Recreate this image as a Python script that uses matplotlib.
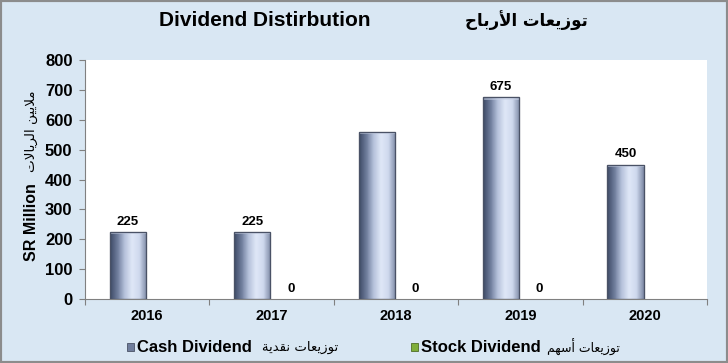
import numpy as np
import matplotlib
matplotlib.use("Agg")
import matplotlib.pyplot as plt
from matplotlib.colors import LinearSegmentedColormap
from matplotlib.patches import Rectangle

years = ['2016', '2017', '2018', '2019', '2020']
cash = [225, 225, 560, 675, 450]
stock = [np.nan, 0, 0, 0, np.nan]
cash_labels = ['225', '225', '', '675', '450']
stock_labels = ['', '0', '0', '0', '']
title_en = 'Dividend Distirbution'
title_ar = 'توزيعات الأرباح'
ylabel_en = 'SR Million'
ylabel_ar = 'ملايين الريالات'
leg_cash_en = 'Cash Dividend'
leg_cash_ar = 'توزيعات نقدية'
leg_stock_en = 'Stock Dividend'
leg_stock_ar = 'توزيعات أسهم'

# --- minimal Arabic shaping (presentation forms) + visual reversal ---
FORMS = {
    'ا': ('\uFE8D', '\uFE8E', None, None),
    'أ': ('\uFE83', '\uFE84', None, None),
    'ب': ('\uFE8F', '\uFE90', '\uFE91', '\uFE92'),
    'ة': ('\uFE93', '\uFE94', None, None),
    'ت': ('\uFE95', '\uFE96', '\uFE97', '\uFE98'),
    'ح': ('\uFEA1', '\uFEA2', '\uFEA3', '\uFEA4'),
    'د': ('\uFEA9', '\uFEAA', None, None),
    'ر': ('\uFEAD', '\uFEAE', None, None),
    'ز': ('\uFEAF', '\uFEB0', None, None),
    'س': ('\uFEB1', '\uFEB2', '\uFEB3', '\uFEB4'),
    'ع': ('\uFEC9', '\uFECA', '\uFECB', '\uFECC'),
    'ق': ('\uFED5', '\uFED6', '\uFED7', '\uFED8'),
    'ل': ('\uFEDD', '\uFEDE', '\uFEDF', '\uFEE0'),
    'م': ('\uFEE1', '\uFEE2', '\uFEE3', '\uFEE4'),
    'ن': ('\uFEE5', '\uFEE6', '\uFEE7', '\uFEE8'),
    'ه': ('\uFEE9', '\uFEEA', '\uFEEB', '\uFEEC'),
    'و': ('\uFEED', '\uFEEE', None, None),
    'ي': ('\uFEF1', '\uFEF2', '\uFEF3', '\uFEF4'),
}
LAMALEF = {'ا': ('\uFEFB', '\uFEFC'), 'أ': ('\uFEF7', '\uFEF8')}


def shape(text):
    units = []
    i = 0
    while i < len(text):
        c = text[i]
        if c == 'ل' and i + 1 < len(text) and text[i + 1] in LAMALEF:
            units.append(('LA', text[i + 1]))
            i += 2
        else:
            units.append(('C', c))
            i += 1

    def joins_left(u):
        if u[0] == 'LA':
            return False
        f = FORMS.get(u[1])
        return f is not None and f[2] is not None

    def joins_right(u):
        if u[0] == 'LA':
            return True
        return u[1] in FORMS

    out = []
    for k, u in enumerate(units):
        prev_j = k > 0 and joins_left(units[k - 1]) and joins_right(u)
        next_j = (k + 1 < len(units) and joins_left(u)
                  and joins_right(units[k + 1]))
        if u[0] == 'LA':
            out.append(LAMALEF[u[1]][1 if prev_j else 0])
            continue
        c = u[1]
        if c not in FORMS:
            out.append(c)
            continue
        iso, fin, ini, med = FORMS[c]
        if prev_j and next_j:
            out.append(med)
        elif prev_j:
            out.append(fin)
        elif next_j:
            out.append(ini)
        else:
            out.append(iso)
    return ''.join(reversed(out))


EN = 'Liberation Sans'
AR = 'DejaVu Sans'
BG = '#d9e7f3'

fig = plt.figure(figsize=(7.28, 3.63), dpi=100, facecolor=BG)
fig.patches.append(Rectangle((0, 0), 1, 1, transform=fig.transFigure,
                             fill=False, edgecolor='#8c8c8c', lw=3))
ax = fig.add_axes([85 / 728, 1 - 299 / 363, 622 / 728, 239 / 363])
ax.set_facecolor('white')

x = np.arange(len(years))
w = 0.29
off = 0.155
bars_c = ax.bar(x - off, cash, w, color='#9aa7c4', edgecolor='#4a5266', lw=0.8, zorder=2)
bars_s = ax.bar(x + off, np.nan_to_num(stock), w, color='#7fae3a', zorder=2)

cmap = LinearSegmentedColormap.from_list(
    'bar', ['#3e4a66', '#6f7d9c', '#b7c3dc', '#dfe7f7', '#cfd9ee', '#7e8aa6'])
grad = np.linspace(0, 1, 64).reshape(1, -1)
for b in bars_c:
    x0, y0 = b.get_x(), b.get_y()
    bw, bh = b.get_width(), b.get_height()
    im = ax.imshow(grad, cmap=cmap, aspect='auto',
                   extent=(x0, x0 + bw, y0, y0 + bh), zorder=2.5,
                   interpolation='bilinear')
    im.set_clip_path(b)
    ax.add_patch(Rectangle((x0, y0 + bh - 8), bw, 8, facecolor='#c9d2e6',
                           edgecolor='none', alpha=0.55, zorder=2.6))
    ax.add_patch(Rectangle((x0, y0), bw, bh, fill=False,
                           edgecolor='#4a5266', lw=0.9, zorder=2.7))

for b, lab in zip(bars_c, cash_labels):
    if lab:
        ax.text(b.get_x() + b.get_width() / 2, b.get_height() + 14, lab,
                ha='center', va='bottom', fontsize=9.5, fontweight='bold',
                family=EN, zorder=4)
for b, lab in zip(bars_s, stock_labels):
    if lab:
        ax.text(b.get_x() + b.get_width() / 2, b.get_height() + 14, lab,
                ha='center', va='bottom', fontsize=9.5, fontweight='bold',
                family=EN, zorder=4)

ax.set_xlim(-0.5, len(years) - 0.5)
ax.set_ylim(0, 800)
ax.set_yticks(np.arange(0, 801, 100))
ax.set_yticklabels([str(v) for v in range(0, 801, 100)], fontsize=12,
                   fontweight='bold', family=EN)
ax.set_xticks(np.arange(-0.5, len(years), 1.0))
ax.set_xticklabels([])
ax.set_xticks(x, minor=True)
ax.set_xticklabels(years, minor=True, fontsize=10.5, fontweight='bold', family=EN)
ax.tick_params(axis='x', which='minor', length=0, pad=7)
ax.tick_params(axis='x', which='major', length=4, color='#808080')
ax.tick_params(axis='y', length=4, color='#808080', pad=5)
for s in ['top', 'right']:
    ax.spines[s].set_visible(False)
for s in ['left', 'bottom']:
    ax.spines[s].set_color('#808080')

fig.text(265 / 728, 1 - 21 / 363, title_en, ha='center', va='center',
         fontsize=15, fontweight='bold', family=EN)
fig.text(526 / 728, 1 - 21 / 363, shape(title_ar), ha='center', va='center',
         fontsize=12, fontweight='bold', family=AR)

fig.text(31 / 728, 1 - 222 / 363, ylabel_en, rotation=90, ha='center',
         va='center', fontsize=11.5, fontweight='bold', family=EN)
fig.text(31 / 728, 1 - 131 / 363, shape(ylabel_ar), rotation=90, ha='center',
         va='center', fontsize=9.7, family=AR)

ly = 1 - 347 / 363
fig.patches.append(Rectangle((127 / 728, ly - 4 / 363), 7 / 728, 8 / 363,
                             transform=fig.transFigure, facecolor='#6f7d9c',
                             edgecolor='#4a5266', lw=0.6))
fig.text(137 / 728, ly, leg_cash_en, ha='left', va='center', fontsize=12,
         fontweight='bold', family=EN)
fig.text(262 / 728, ly, shape(leg_cash_ar), ha='left', va='center',
         fontsize=9.5, family=AR)
fig.patches.append(Rectangle((411 / 728, ly - 4 / 363), 7 / 728, 8 / 363,
                             transform=fig.transFigure, facecolor='#7fae3a',
                             edgecolor='#4f6d26', lw=0.6))
fig.text(421 / 728, ly, leg_stock_en, ha='left', va='center', fontsize=12,
         fontweight='bold', family=EN)
fig.text(547 / 728, ly, shape(leg_stock_ar), ha='left', va='center',
         fontsize=9, family=AR)

fig.savefig('out.png', dpi=100, facecolor=BG)
